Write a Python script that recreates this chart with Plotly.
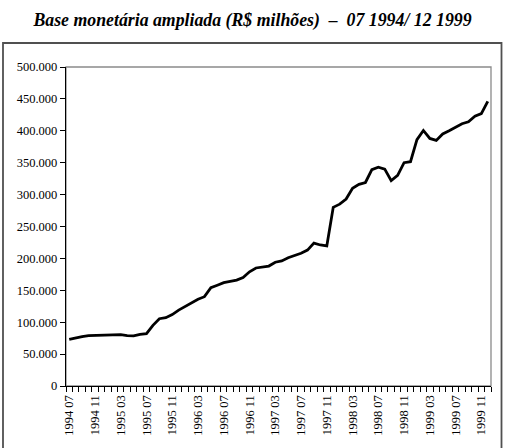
import plotly.graph_objects as go

months = []
for y in range(1994, 2000):
    for m in range(1, 13):
        if (y == 1994 and m < 7):
            continue
        months.append(f"{y} {m:02d}")

values = [
    73000, 75500, 77500, 79000, 79500, 80000,            # 1994 07-12
    80000, 80500, 80500, 79000, 78500, 81000,            # 1995 01-06
    82000, 95000, 105500, 107000, 112000, 119000,        # 1995 07-12
    125000, 131000, 136000, 140000, 154000, 158000,      # 1996 01-06
    162000, 164000, 166000, 170000, 179000, 185000,      # 1996 07-12
    186500, 188000, 194000, 196000, 201000, 204500,      # 1997 01-06
    208000, 213000, 224000, 221000, 219500, 280000,      # 1997 07-12
    285000, 293000, 310000, 316000, 319000, 339000,      # 1998 01-06
    343000, 340000, 322000, 330000, 350000, 351500,      # 1998 07-12
    386000, 400500, 388000, 385000, 395000, 400000,      # 1999 01-06
    406000, 411000, 414000, 423000, 427000, 446000,      # 1999 07-12
]

tick_labels = [m if i % 4 == 0 else "" for i, m in enumerate(months)]

title_text = "Base monetária ampliada (R$ milhões)\u00a0\u00a0–\u00a0\u00a007 1994/ 12 1999"

FONT = "Liberation Serif"

W, H = 505, 448
L, T = 66, 67
R = W - 491
B = H - 386
pw, ph = W - L - R, H - T - B

def px_x(x):
    return (x - L) / pw

def px_y(y):
    return (H - B - y) / ph

fig = go.Figure()
fig.add_trace(go.Scatter(
    x=months, y=values, mode="lines",
    line=dict(color="black", width=2.8),
    hoverinfo="skip", showlegend=False,
))

fig.update_layout(
    width=W, height=H,
    margin=dict(l=L, r=R, t=T, b=B, autoexpand=False),
    paper_bgcolor="white", plot_bgcolor="white",
    separators=",.",
    title=dict(
        text=title_text, x=0.5, xanchor="center",
        y=1 - 20 / H, yanchor="middle",
        font=dict(family=FONT, size=17.8, color="black", weight="bold", style="italic"),
    ),
    font=dict(family=FONT, size=12.5, color="black"),
    xaxis=dict(
        type="category",
        tickmode="array", tickvals=months, ticktext=tick_labels,
        tickson="boundaries", ticks="outside", ticklen=5, tickcolor="black", tickwidth=1,
        tickangle=-90, showgrid=False, zeroline=False,
        showline=True, linecolor="black", linewidth=1.3,
        range=[-0.5, len(months) - 0.5],
        ticklabelstandoff=3,
        tickfont=dict(family=FONT, size=12.5, color="black"),
    ),
    yaxis=dict(
        range=[0, 500000], dtick=50000, tick0=0, tickformat=",d",
        ticks="outside", ticklen=5, tickcolor="black", tickwidth=1,
        showgrid=False, zeroline=False,
        showline=True, linecolor="black", linewidth=1.3,
        tickfont=dict(family=FONT, size=12.5, color="black"),
    ),
    shapes=[
        dict(type="rect", xref="paper", yref="paper", x0=0, x1=1, y0=0, y1=1,
             line=dict(color="#8a8a8a", width=1.3), layer="below"),
        dict(type="rect", xref="paper", yref="paper",
             x0=px_x(3), x1=px_x(501.5), y0=px_y(452), y1=px_y(43),
             line=dict(color="#505050", width=1.8), layer="below"),
    ],
)

fig.write_html("out.html", config={"displayModeBar": False},
               post_script="document.body.style.margin='0';")
